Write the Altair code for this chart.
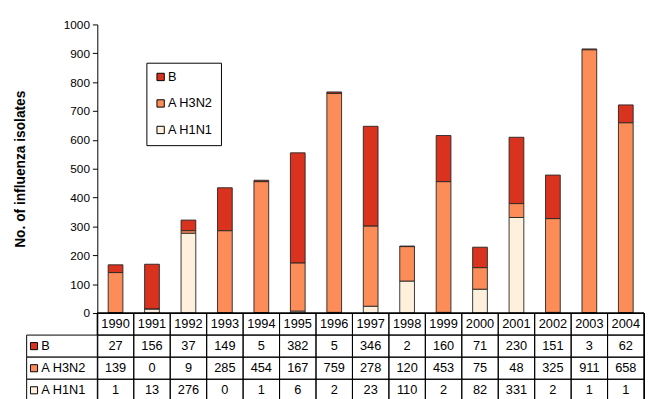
import altair as alt
import pandas as pd

years = ["1990", "1991", "1992", "1993", "1994", "1995", "1996", "1997",
         "1998", "1999", "2000", "2001", "2002", "2003", "2004"]
b_vals = [27, 156, 37, 149, 5, 382, 5, 346, 2, 160, 71, 230, 151, 3, 62]
h3n2_vals = [139, 0, 9, 285, 454, 167, 759, 278, 120, 453, 75, 48, 325, 911, 658]
h1n1_vals = [1, 13, 276, 0, 1, 6, 2, 23, 110, 2, 82, 331, 2, 1, 1]

series = ["B", "A H3N2", "A H1N1"]
colors = ["#D93320", "#FC8D59", "#FEF0DC"]
stack_rank = {"A H1N1": 0, "A H3N2": 1, "B": 2}

rows = []
for name, vals in zip(series, [b_vals, h3n2_vals, h1n1_vals]):
    for y, v in zip(years, vals):
        rows.append({"year": y, "series": name, "value": v, "rank": stack_rank[name]})
df = pd.DataFrame(rows)

hdr = pd.DataFrame({"year": years, "series": "Year", "value": years})
lab = pd.DataFrame({"series": series})
row_domain = ["Year"] + series
all_rows = pd.DataFrame({"series": row_domain})
year_cols = pd.DataFrame({"year": years})

FONT = "Liberation Sans"
TS = 13
W = 557
H_TABLE = 90
color_scale = alt.Scale(domain=series, range=colors)

bars = alt.Chart(df).mark_bar(size=15, stroke="#222222", strokeWidth=0.9).encode(
    x=alt.X("year:N", sort=years,
            scale=alt.Scale(paddingInner=0, paddingOuter=0),
            axis=None),
    y=alt.Y("value:Q", stack="zero",
            scale=alt.Scale(domain=[0, 1000], nice=False),
            axis=alt.Axis(values=list(range(0, 1001, 100)), format="d",
                          title="No. of influenza isolates",
                          titleFont=FONT, titleFontSize=14, titleFontWeight="bold",
                          titlePadding=36, labelFont=FONT, labelFontSize=12,
                          labelColor="black", titleColor="black",
                          tickColor="black", domainColor="black", tickSize=5,
                          labelPadding=3, grid=False)),
    color=alt.Color("series:N", scale=color_scale,
                    legend=alt.Legend(orient="none", legendX=50, legendY=39, title=None,
                                      symbolType="square", symbolSize=56,
                                      symbolStrokeColor="black", symbolStrokeWidth=1,
                                      labelFont=FONT, labelFontSize=TS, labelColor="black",
                                      strokeColor="black", fillColor="white",
                                      padding=8, rowPadding=13, labelOffset=1)),
    order=alt.Order("rank:Q", sort="ascending"),
).properties(width=W, height=294, view={"stroke": "transparent"})

ysc = alt.Scale(domain=row_domain, paddingInner=0, paddingOuter=0)
xsc = alt.Scale(domain=years, paddingInner=0, paddingOuter=0)

no_x = alt.Axis(labels=False, ticks=False, domain=False, title=None, grid=False)
no_y = alt.Axis(labels=False, ticks=False, domain=False, title=None, grid=False)

row_boxes = alt.Chart(all_rows).mark_rect(fill="white", fillOpacity=0,
                                          stroke="black", strokeWidth=1).encode(
    x=alt.value(0), x2=alt.value(W),
    y=alt.Y("series:N", scale=ysc, axis=no_y),
)
col_boxes = alt.Chart(year_cols).mark_rect(fill="white", fillOpacity=0,
                                           stroke="black", strokeWidth=1).encode(
    x=alt.X("year:N", scale=xsc, axis=no_x),
    y=alt.value(0), y2=alt.value(H_TABLE),
)
cells = alt.Chart(df).mark_text(font=FONT, fontSize=TS, color="black").encode(
    x=alt.X("year:N", scale=xsc, axis=no_x),
    y=alt.Y("series:N", scale=ysc, axis=no_y),
    text=alt.Text("value:Q"),
)
header = alt.Chart(hdr).mark_text(font=FONT, fontSize=TS, color="black").encode(
    x=alt.X("year:N", scale=xsc, axis=no_x),
    y=alt.Y("series:N", scale=ysc, axis=no_y),
    text="value:N",
)
left_box = alt.Chart(lab).mark_rect(fill="white", stroke="black", strokeWidth=1).encode(
    x=alt.value(-72), x2=alt.value(0),
    y=alt.Y("series:N", scale=ysc, axis=no_y),
)
squares = alt.Chart(lab).mark_point(shape="square", size=52, filled=True,
                                    stroke="black", strokeWidth=1, opacity=1).encode(
    x=alt.value(-64.5),
    y=alt.Y("series:N", scale=ysc, axis=no_y),
    fill=alt.Fill("series:N", scale=color_scale, legend=None),
)
labels = alt.Chart(lab).mark_text(font=FONT, fontSize=TS, color="black", align="left").encode(
    x=alt.value(-57),
    y=alt.Y("series:N", scale=ysc, axis=no_y),
    text="series:N",
)

table = alt.layer(row_boxes, col_boxes, left_box, cells, header, squares, labels).properties(
    width=W, height=H_TABLE, view={"stroke": "black", "strokeWidth": 1}
)

chart = alt.vconcat(bars, table, spacing=0, bounds="flush").resolve_scale(
    color="independent", x="independent"
).properties(
    padding={"left": 5, "top": 6, "right": 0, "bottom": 0}
).configure(font=FONT).configure_view(stroke="transparent")

chart.save("out.html", embed_options={"renderer": "svg", "actions": False})
